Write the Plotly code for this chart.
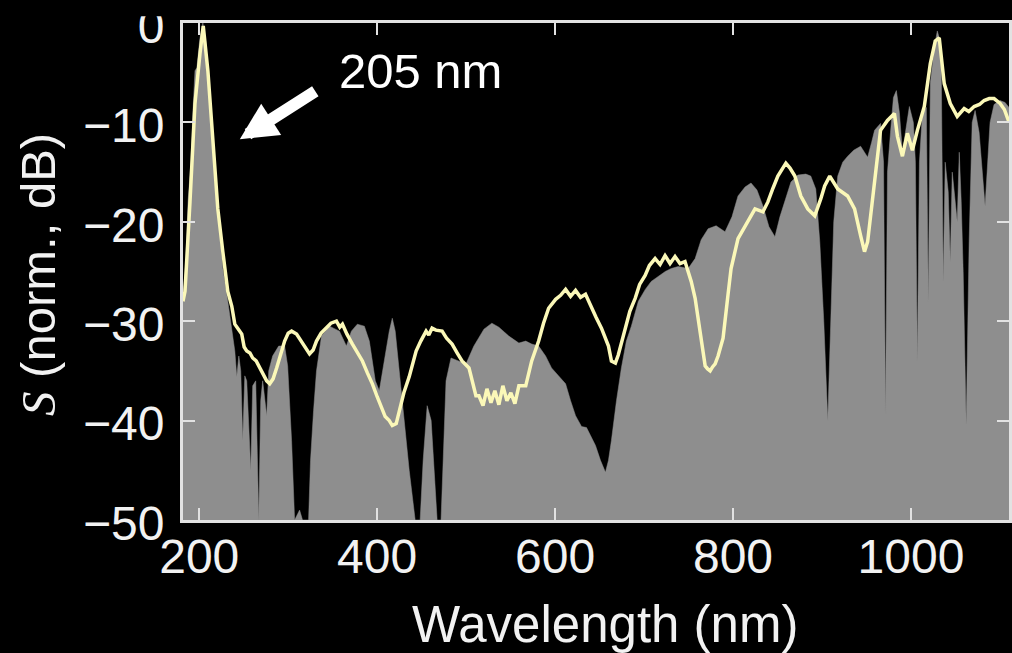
import plotly.graph_objects as go

# Simulated spectrum (grey filled area): wavelength (nm) and level (dB)
sim_wl = [181.7, 185.1, 187.4, 190.7, 193.0, 195.2, 197.4, 200.8, 204.1, 207.5,
          212.0, 216.5, 219.8, 223.2, 226.5, 232.1, 236.6, 240.0, 242.2, 244.5,
          246.7, 248.9, 251.2, 253.4, 257.9, 260.1, 263.5, 266.9, 269.1, 271.3,
          275.8, 278.1, 282.5, 289.3, 296.0, 299.4, 303.8, 307.2, 312.8, 316.1,
          322.9, 325.1, 328.5, 331.8, 337.4, 346.4, 357.6, 365.4, 371.0, 377.7,
          385.6, 391.2, 397.9, 402.4, 408.0, 413.6, 417.0, 420.3, 424.8, 430.4,
          436.0, 442.7, 448.3, 451.7, 456.2, 460.7, 465.1, 467.4, 471.8, 474.0,
          477.4, 483.0, 492.0, 499.8, 508.7, 520.0, 528.9, 536.8, 548.0, 559.3,
          567.0, 573.7, 581.5, 589.3, 596.0, 603.9, 611.8, 617.4, 623.0, 629.7,
          635.3, 639.8, 645.4, 651.0, 656.6, 660.0, 663.3, 669.0, 674.5, 680.1,
          685.7, 693.6, 701.4, 708.0, 715.9, 723.8, 730.5, 738.4, 749.6, 757.4,
          764.2, 772.0, 781.0, 791.0, 798.8, 805.6, 813.5, 820.2, 826.9, 833.6,
          840.4, 847.1, 852.7, 858.3, 865.1, 872.9, 881.8, 887.4, 893.0, 897.5,
          902.0, 906.5, 909.9, 913.2, 917.7, 923.3, 928.9, 935.6, 943.4, 947.8,
          951.3, 955.8, 959.1, 965.8, 969.2, 971.4, 973.6, 977.0, 980.3, 983.6,
          987.0, 990.4, 993.7, 998.2, 1002.7, 1005.0, 1007.2, 1009.5, 1012.8, 1017.3,
          1019.5, 1021.8, 1026.3, 1029.6, 1031.8, 1034.0, 1036.3, 1038.5, 1041.9, 1044.2,
          1046.4, 1049.8, 1052.0, 1054.3, 1056.5, 1058.7, 1062.1, 1065.4, 1068.8, 1072.1,
          1076.6, 1081.1, 1083.3, 1085.6, 1088.9, 1093.4, 1100.2, 1105.8, 1110.3]
sim_db = [-27.5, -24.0, -18.0, -14.0, -8.8, -4.8, -4.5, -1.5, 0.0, -2.0,
          -8.0, -14.0, -18.0, -21.0, -24.7, -28.0, -31.0, -33.0, -35.6, -33.5,
          -35.0, -42.0, -35.5, -36.0, -45.0, -36.5, -36.0, -50.0, -38.0, -36.0,
          -39.5, -35.0, -33.5, -32.5, -32.5, -34.5, -42.0, -50.0, -49.0, -50.0,
          -50.0, -44.0, -39.0, -35.0, -31.5, -30.5, -31.0, -32.5, -31.0, -30.3,
          -30.5, -32.0, -36.0, -37.0, -34.0, -31.0, -29.7, -31.0, -35.0, -40.0,
          -45.0, -50.0, -50.0, -44.0, -38.5, -40.0, -46.0, -50.0, -50.0, -44.0,
          -36.0, -33.7, -34.0, -34.3, -32.5, -30.8, -30.2, -30.6, -31.5, -32.2,
          -32.0, -32.3, -32.5, -33.5, -34.7, -35.5, -36.3, -38.0, -39.5, -40.6,
          -40.7, -41.5, -42.5, -44.0, -45.2, -44.0, -42.0, -38.0, -34.7, -32.0,
          -30.5, -28.0, -26.8, -26.0, -25.5, -25.0, -24.7, -24.5, -24.7, -23.7,
          -21.8, -20.7, -20.4, -21.0, -19.5, -17.4, -16.5, -16.1, -16.8, -18.4,
          -20.5, -21.5, -19.5, -18.0, -16.0, -15.3, -15.2, -15.4, -16.7, -22.0,
          -30.0, -40.0, -30.0, -20.0, -15.4, -14.0, -13.4, -12.8, -12.4, -13.0,
          -13.5, -12.0, -10.8, -10.1, -14.0, -39.3, -15.0, -11.0, -7.5, -6.8,
          -9.0, -13.0, -11.0, -8.4, -10.0, -14.0, -34.0, -14.0, -9.1, -8.5,
          -28.0, -6.0, -2.5, -0.8, -1.5, -4.0, -26.0, -14.0, -17.0, -24.0,
          -15.0, -18.0, -20.0, -13.0, -18.0, -25.0, -40.4, -22.0, -10.0, -8.8,
          -11.0, -16.0, -18.4, -15.0, -10.0, -8.2, -7.8, -8.0, -8.5]

# Measured spectrum (pale yellow line)
meas_wl = [181.7, 184.0, 189.6, 195.2, 200.8, 204.5, 209.7, 215.3, 220.9, 226.5,
           232.1, 236.6, 240.0, 244.0, 247.8, 250.5, 253.4, 257.0, 260.1, 264.0,
           268.0, 272.0, 275.8, 279.2, 283.0, 287.0, 291.0, 296.0, 300.0, 303.8,
           309.4, 313.0, 316.1, 320.0, 324.0, 328.0, 331.8, 337.0, 343.0, 348.0,
           354.2, 358.0, 361.0, 366.0, 372.2, 377.0, 383.4, 389.0, 394.6, 400.0,
           405.7, 409.0, 413.6, 417.0, 421.4, 424.8, 430.0, 436.0, 443.8, 449.0,
           455.0, 458.0, 461.7, 466.0, 473.0, 478.0, 484.2, 490.0, 495.4, 503.2,
           508.0, 511.0, 514.4, 519.0, 523.4, 527.9, 532.3, 536.8, 541.3, 545.8,
           550.3, 554.8, 559.3, 567.0, 573.7, 581.5, 587.0, 592.7, 600.6, 606.2,
           611.8, 617.4, 623.0, 628.6, 634.2, 640.9, 646.0, 652.1, 660.0, 663.3,
           667.8, 671.0, 678.8, 684.0, 690.0, 695.0, 701.2, 706.0, 712.4, 718.0,
           723.6, 729.2, 734.8, 740.4, 746.0, 749.6, 753.0, 757.4, 764.2, 768.7,
           771.5, 774.3, 777.0, 779.9, 783.2, 788.8, 794.4, 797.8, 805.6, 813.5,
           819.0, 824.7, 833.6, 839.2, 845.0, 850.4, 859.4, 864.0, 869.5, 876.2,
           884.0, 891.9, 898.6, 903.0, 908.7, 917.7, 928.8, 936.6, 943.4, 947.8,
           951.3, 955.0, 959.0, 965.8, 973.6, 981.4, 984.8, 990.4, 996.0, 1001.6,
           1007.2, 1015.0, 1021.7, 1027.3, 1031.8, 1037.4, 1044.2, 1052.0, 1059.8, 1065.0,
           1071.0, 1077.0, 1082.2, 1088.0, 1093.4, 1100.2, 1105.0, 1110.3]
meas_db = [-28.0, -27.0, -18.0, -8.1, -3.1, -0.3, -4.8, -11.4, -18.7, -23.0,
           -27.0, -28.5, -30.3, -30.8, -31.3, -32.6, -33.0, -33.2, -33.7, -34.0,
           -34.7, -35.4, -36.0, -36.3, -35.8, -34.7, -33.4, -32.0, -31.2, -31.0,
           -31.3, -31.8, -32.3, -32.8, -33.3, -32.9, -32.0, -31.2, -30.7, -30.2,
           -30.0, -30.6, -30.3, -31.3, -32.3, -33.0, -34.0, -35.2, -36.3, -37.6,
           -39.0, -39.6, -40.0, -40.5, -40.3, -39.0, -37.2, -35.6, -33.0, -32.0,
           -31.0, -31.4, -30.7, -30.9, -31.0, -31.7, -32.3, -33.2, -34.0, -34.7,
           -36.3, -37.5, -37.5, -38.5, -36.8, -38.2, -37.0, -38.4, -36.5, -38.0,
           -37.2, -38.3, -36.5, -36.5, -34.0, -32.0, -30.2, -28.7, -27.8, -27.4,
           -26.8, -27.5, -26.9, -27.6, -27.3, -28.7, -29.6, -30.7, -32.5, -34.0,
           -34.2, -33.4, -30.7, -29.0, -27.7, -26.3, -25.4, -24.4, -23.7, -24.3,
           -23.4, -24.2, -23.5, -24.2, -24.0, -25.0, -26.0, -27.7, -32.0, -34.5,
           -34.8, -35.0, -34.6, -34.3, -33.5, -31.7, -27.3, -24.7, -21.7, -20.4,
           -19.5, -18.7, -19.0, -18.0, -16.6, -15.4, -14.1, -14.6, -15.4, -17.4,
           -18.7, -19.4, -17.7, -16.4, -15.4, -16.7, -17.4, -18.7, -21.4, -23.0,
           -22.0, -19.0, -16.4, -10.8, -9.8, -9.1, -11.4, -13.4, -11.1, -12.8,
           -10.8, -8.4, -4.1, -1.8, -1.5, -6.1, -8.1, -9.4, -8.6, -8.9,
           -8.4, -8.2, -7.8, -7.6, -7.6, -8.1, -8.7, -10.0]

x_ticks = [200, 400, 600, 800, 1000]
y_ticks = [-50, -40, -30, -20, -10, 0]

FONT = "Liberation Sans, Arial, sans-serif"
TXT = "#f2f2f2"
FRAME = "#e2e2e2"
X_RANGE = [181.75, 1110.2]
Y_FLOOR = -50

fig = go.Figure()

# floor of the filled area
fig.add_trace(go.Scatter(
    x=[X_RANGE[0], X_RANGE[1]], y=[Y_FLOOR, Y_FLOOR],
    mode="lines", line=dict(width=0, color="rgba(0,0,0,0)"),
    hoverinfo="skip", showlegend=False))

fig.add_trace(go.Scatter(
    x=sim_wl, y=sim_db, mode="lines", fill="tonexty",
    fillcolor="#8e8e8e", line=dict(width=0.5, color="#8e8e8e"),
    showlegend=False))

fig.add_trace(go.Scatter(
    x=meas_wl, y=meas_db, mode="lines",
    line=dict(width=3.5, color="#fbf8b8"),
    showlegend=False))

axis_common = dict(
    showgrid=False, zeroline=False,
    showline=True, linecolor=FRAME, linewidth=3,
    ticks="inside", ticklen=12, tickwidth=2, tickcolor=FRAME,
    ticklabeloverflow="allow",
    tickfont=dict(family=FONT, size=48, color=TXT),
)

fig.update_xaxes(range=X_RANGE, tickvals=x_ticks, mirror="ticks",
                 ticklabelstandoff=-8, **axis_common)
fig.update_yaxes(range=[-50, 0], tickvals=y_ticks, mirror="ticks",
                 ticklabelstandoff=6, ticklabelshift=3, **axis_common)

# axis titles
fig.add_annotation(
    text="Wavelength (nm)", xref="paper", yref="paper",
    x=0.5115, y=-0.2096, xanchor="center", yanchor="middle",
    showarrow=False, font=dict(family=FONT, size=51, color=TXT))
fig.add_annotation(
    text="<span style=\"font-family:'Liberation Serif', serif\"><i>S</i></span> (norm., dB)",
    xref="paper", yref="paper",
    x=-0.1743, y=0.493, xanchor="center", yanchor="middle", textangle=-90,
    showarrow=False, font=dict(family=FONT, size=49, color=TXT))

# peak label with arrow
fig.add_annotation(
    text="205 nm", x=449, y=-4.8, xanchor="center", yanchor="middle",
    showarrow=False, font=dict(family=FONT, size=49, color="#ffffff"))
fig.add_annotation(
    text="", x=245.6, y=-11.7, ax=77, ay=-49, showarrow=True,
    arrowhead=2, arrowwidth=12, arrowsize=0.62, arrowcolor="#ffffff",
    standoff=0)

# black band along the top edge of the page
fig.add_shape(type="rect", xref="paper", yref="paper",
              x0=-0.3, x1=1.1, y0=1.0135, y1=1.3, layer="above",
              fillcolor="#000000", line=dict(width=0))

fig.update_layout(
    width=1012, height=653,
    margin=dict(l=183, r=0, t=19, b=133),
    paper_bgcolor="#000000", plot_bgcolor="#000000",
    font=dict(family=FONT, color=TXT),
    showlegend=False,
)

fig.write_html("out.html")
